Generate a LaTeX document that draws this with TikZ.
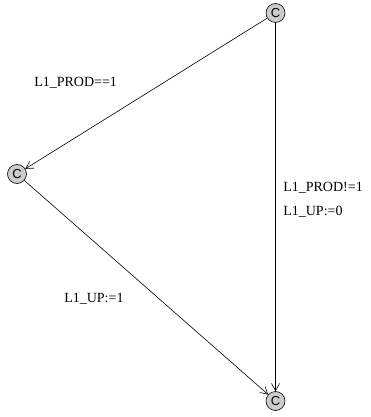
\documentclass[tikz,border=0pt]{standalone}
\usepackage{fontspec}
\setmainfont{Liberation Serif}
\newfontfamily\locfont{Liberation Sans}
\usetikzlibrary{positioning,arrows.meta}

\begin{document}
\begin{tikzpicture}[x=1pt,y=-1pt,>={Straight Barb[length=7pt,width=8pt]},line width=0.6pt,every node/.style={font=\fontsize{14}{17}\selectfont}]
\tikzstyle{loc}=[draw,circle,fill=black!20,minimum size=19pt,inner sep=0pt,font=\locfont\fontsize{13}{15}\selectfont]
\tikzstyle{lbl}=[anchor=base west,inner sep=0pt]
\useasboundingbox (0,0) rectangle (370,417);
\node[loc] (top) at (275.5,13) {C};
\node[loc] (left) at (17,174) {C};
\node[loc] (bot) at (275.5,401) {C};
\draw[->] (top) -- (left);
\draw[->] (top) -- (bot);
\draw[->] (left) -- (bot);
\node[lbl] (g1) at (34,87) {L1\_PROD==1};
\node[lbl] (g2) at (283,191) {L1\_PROD!=1};
\node[lbl] (a2) at (283,215) {L1\_UP:=0};
\node[lbl] (a3) at (64,302) {L1\_UP:=1};
\end{tikzpicture}
\end{document}
